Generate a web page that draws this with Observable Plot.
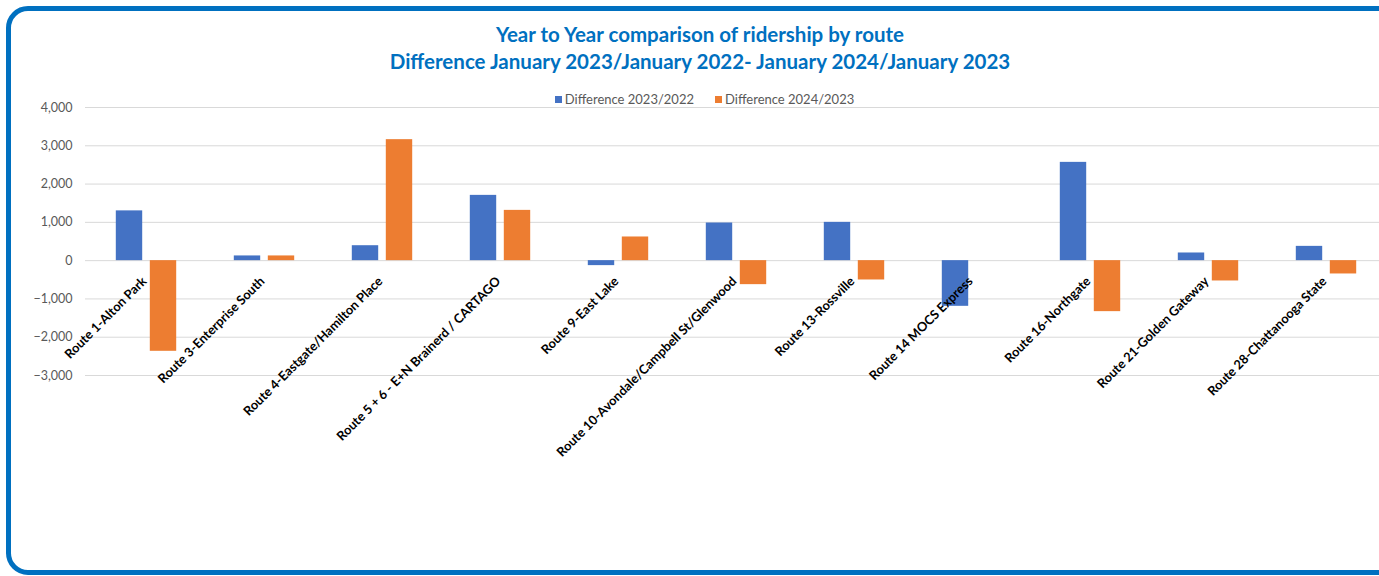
<!DOCTYPE html>
<html>
<head>
<meta charset="utf-8">
<script src="https://cdn.jsdelivr.net/npm/d3@7"></script>
<script src="https://cdn.jsdelivr.net/npm/@observablehq/plot@0.6"></script>
<style>
  html, body { margin: 0; padding: 0; background: #fff; overflow: hidden; }
  #wrap { position: relative; width: 1379px; height: 576px; overflow: hidden; font-family: Lato, "Noto Sans", sans-serif; }
  #frame { position: absolute; left: 6px; top: 6px; width: 1420px; height: 569px; border: 5px solid #0070C0; border-radius: 22px; box-sizing: border-box; }
  #title { position: absolute; left: 0; top: 21px; width: 1400px; text-align: center; color: #0070C0; font-weight: bold; font-size: 20.5px; line-height: 27px; }
  #legend { position: absolute; left: 0; top: 91px; width: 1409px; display: flex; justify-content: center; gap: 21px; font-size: 13px; color: #595959; }
  #legend span.item { display: inline-flex; align-items: center; }
  #legend i { display: inline-block; width: 7px; height: 7px; margin-right: 3px; }
  #chart { position: absolute; left: 0; top: 80px; width: 1400px; }
  #chart svg { max-width: none !important; }
</style>
</head>
<body>
<div id="wrap">
  <div id="frame"></div>
  <div id="title">Year to Year comparison of ridership by route<br>Difference January 2023/January 2022- January 2024/January 2023</div>
  <div id="legend"></div>
  <div id="chart"></div>
</div>
<script>
const routes = [
  "Route 1-Alton Park",
  "Route 3-Enterprise South",
  "Route 4-Eastgate/Hamilton Place",
  "Route 5 + 6 - E+N Brainerd / CARTAGO",
  "Route 9-East Lake",
  "Route 10-Avondale/Campbell St/Glenwood",
  "Route 13-Rossville",
  "Route 14 MOCS Express",
  "Route 16-Northgate",
  "Route 21-Golden Gateway",
  "Route 28-Chattanooga State"
];
const seriesNames = ["Difference 2023/2022", "Difference 2024/2023"];
const diff2023 = [1300, 123, 390, 1705, -130, 983, 1000, -1193, 2567, 200, 373];
const diff2024 = [-2368, 123, 3160, 1313, 618, -627, -505, 0, -1332, -531, -348];
const yTicks = [-3000, -2000, -1000, 0, 1000, 2000, 3000, 4000];
const colors = ["#4472C4", "#ED7D31"];

const legend = document.getElementById("legend");
seriesNames.forEach((s, i) => {
  const el = document.createElement("span");
  el.className = "item";
  el.innerHTML = `<i style="background:${colors[i]}"></i>${s}`;
  legend.appendChild(el);
});

const d1 = routes.map((r, i) => ({route: r, value: diff2023[i]}));
const d2 = routes.map((r, i) => ({route: r, value: diff2024[i]}));

const W = 1400, H = 496;
const chart = Plot.plot({
  width: W,
  height: H,
  marginLeft: 85,
  marginRight: 0,
  marginTop: 27,
  marginBottom: H - 295,
  style: {fontFamily: "Lato, 'Noto Sans', sans-serif", background: "transparent", overflow: "visible", maxWidth: "none"},
  x: {type: "band", domain: routes, range: [84, 84 + 11 * 118.6], padding: 0, axis: null},
  y: {domain: [-3000, 4000], ticks: yTicks},
  marks: [
    Plot.gridY(yTicks, {stroke: "#d9d9d9", strokeOpacity: 1, strokeWidth: 1}),
    Plot.axisY(yTicks, {tickSize: 0, tickPadding: 13, tickFormat: d3.format(","), fontSize: 12.5, color: "#595959", label: null}),
    Plot.barY(d1, {x: "route", y: "value", fill: colors[0], insetLeft: 28.8, insetRight: 62.8}),
    Plot.barY(d2, {x: "route", y: "value", fill: colors[1], insetLeft: 62.8, insetRight: 28.8}),
    Plot.text(routes, {x: d => d, y: () => 0, text: d => d, rotate: -45, textAnchor: "end", lineAnchor: "middle", dx: -2, dy: 18.5, fontSize: 12.8, fontWeight: "bold", fill: "#000"})
  ]
});
chart.style.maxWidth = "none";
document.getElementById("chart").appendChild(chart);
</script>
</body>
</html>
